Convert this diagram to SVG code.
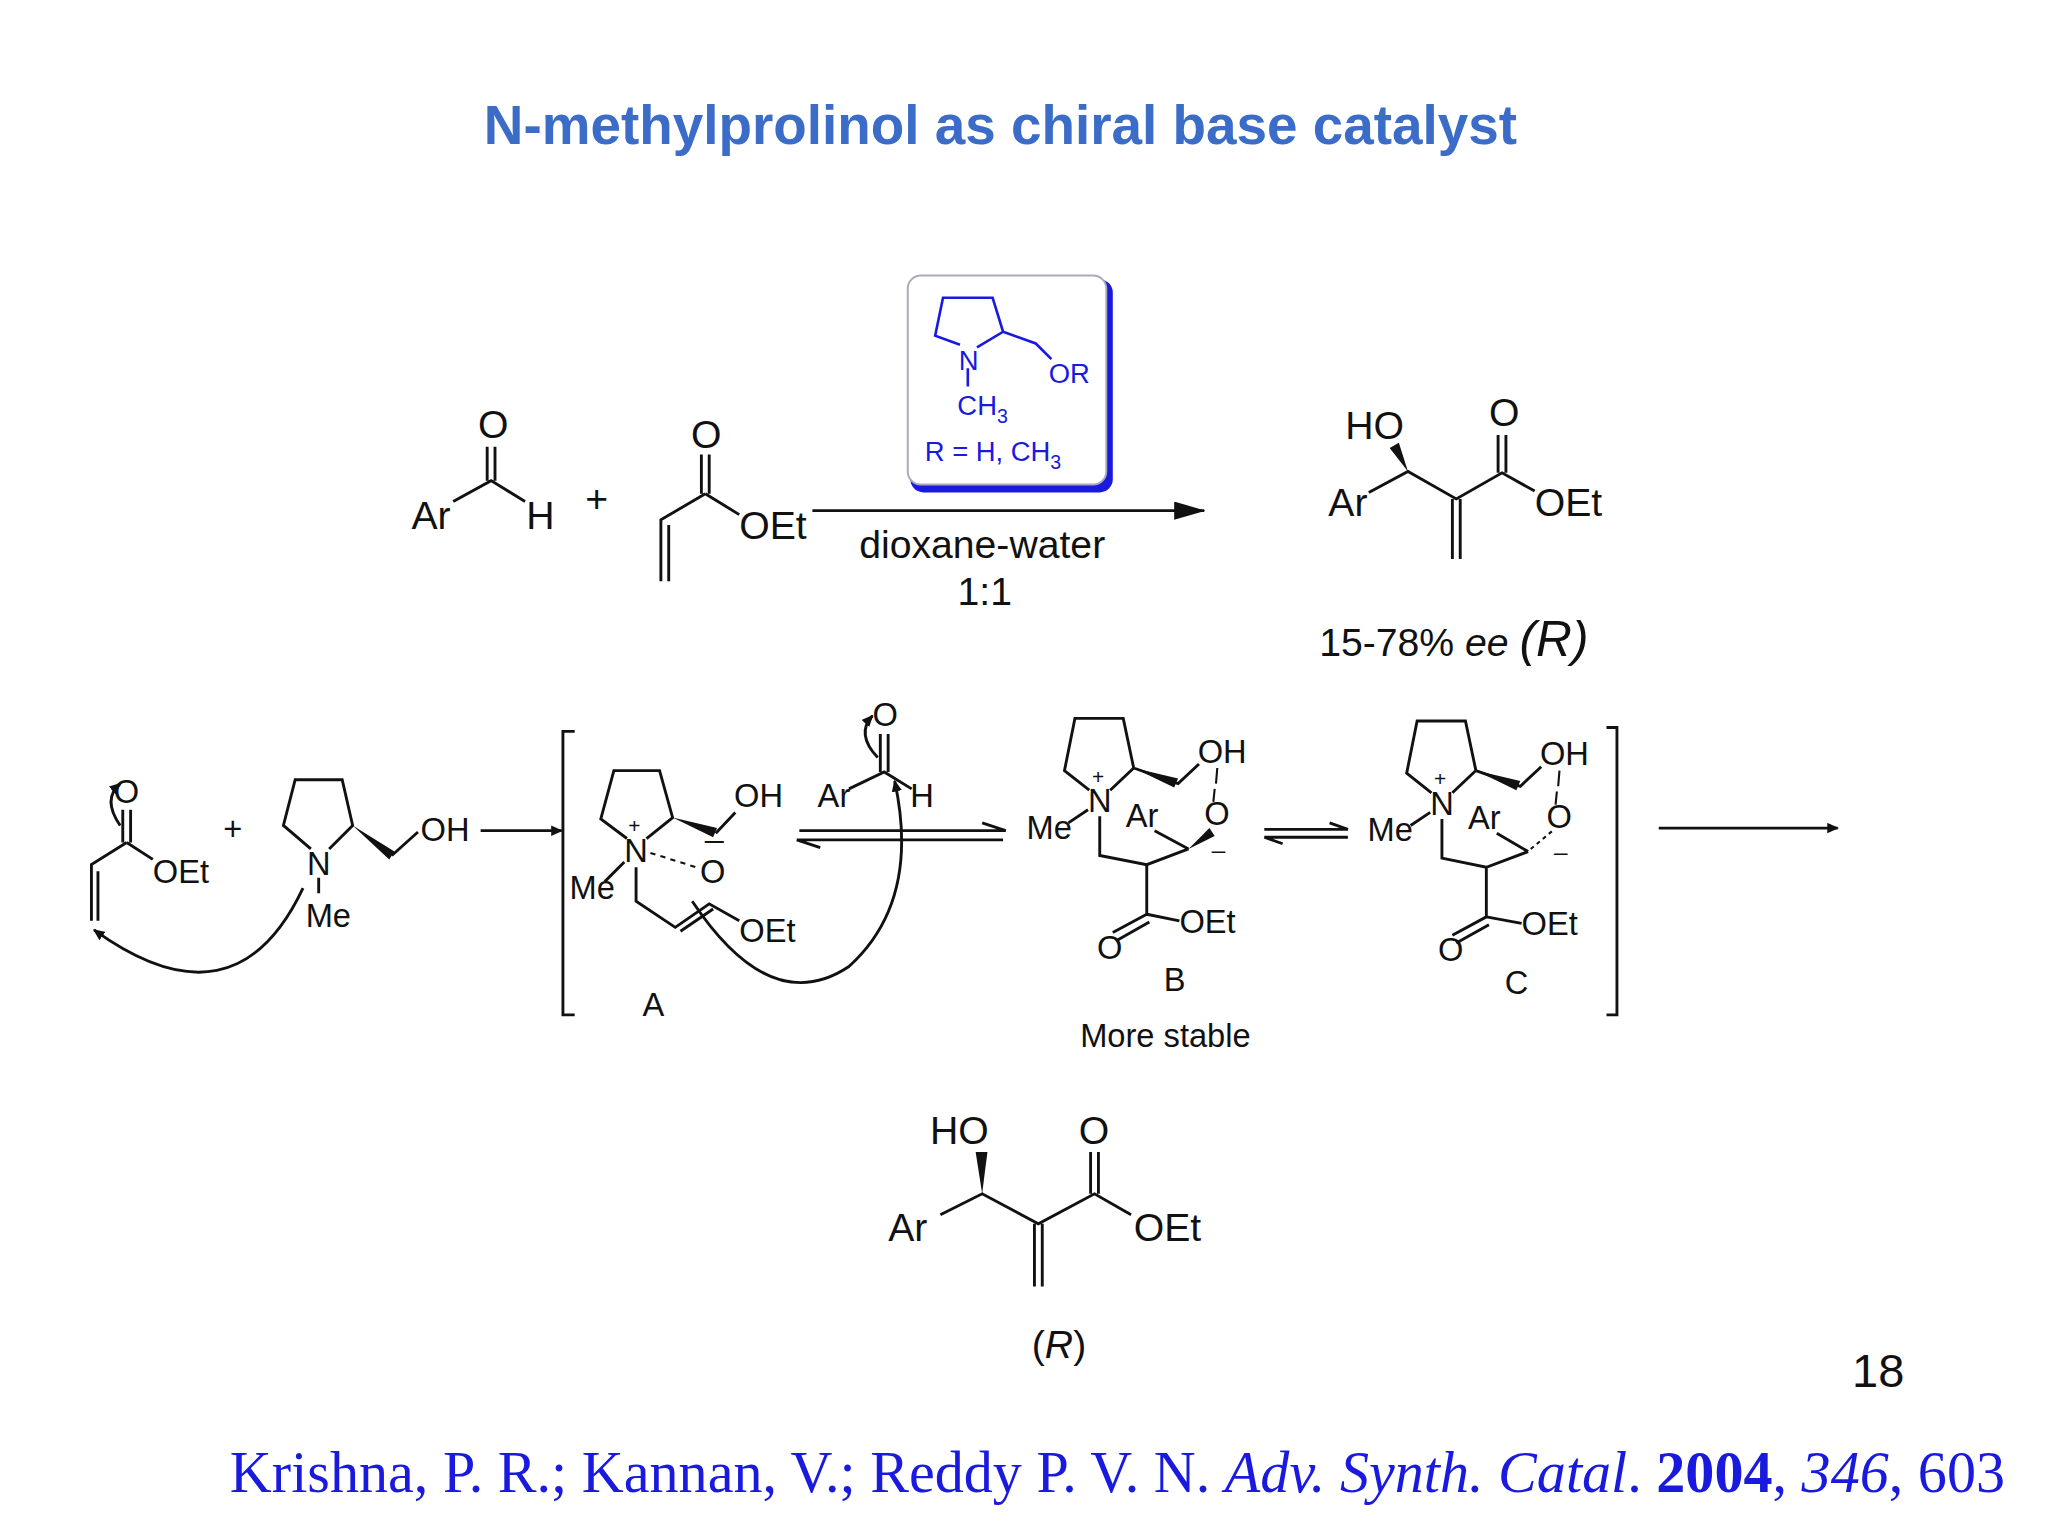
<svg xmlns="http://www.w3.org/2000/svg" width="2048" height="1536" viewBox="0 0 2048 1536">
<style>
text{font-family:"Liberation Sans",Arial,sans-serif;fill:#111}
.b{stroke:#111;stroke-width:2.2;fill:none}
.bl{stroke:#1a1adf;stroke-width:2;fill:none}
.t{font-size:30px}
.s{font-size:25px}
</style>
<defs>
<marker id="ah" markerWidth="24" markerHeight="14" refX="23" refY="7" orient="auto" markerUnits="userSpaceOnUse"><path d="M0,0 L24,7 L0,14 Z" fill="#111"/></marker>
<marker id="ahs" markerWidth="9" markerHeight="8" refX="8" refY="4" orient="auto" markerUnits="userSpaceOnUse"><path d="M0,0 L9,4 L0,8 Z" fill="#111"/></marker>
</defs>
<rect width="2048" height="1536" fill="#fff"/>
<g transform="scale(1.3061)">
<text x="766" y="110" text-anchor="middle" style="font-size:42px;font-weight:bold;fill:#3a6cc8">N-methylprolinol as chiral base catalyst</text>

<g id="aldehyde">
<text class="t" x="315" y="405">Ar</text><text class="t" x="366" y="335">O</text><text class="t" x="403" y="405">H</text>
<path class="b" d="M347,384 L376,368 L402,384 M373,368 V342 M379,368 V342"/>
</g>
<text class="t" x="448" y="392">+</text>
<g id="acrylate">
<text class="t" x="529" y="343">O</text><text class="t" x="566" y="413">OEt</text>
<path class="b" d="M537,378 V348 M543,378 V348 M540,378 L566,394 M540,378 L506,398 V445 M512,402 V445"/>
</g>
<g id="catalyst">
<rect x="697" y="214" width="155" height="163" rx="10" fill="#1a1adf"/>
<rect x="695" y="211" width="152" height="160" rx="10" fill="#fff" stroke="#aab" stroke-width="1.5"/>
<path class="bl" d="M735,264 L716,257 L722,228 L760,228 L768,254 L748,266 M768,254 L793,263 L805,275 M741,282 V296"/>
<text x="734" y="283" style="font-size:21px;fill:#1a1adf">N</text>
<text x="803" y="293" style="font-size:21px;fill:#1a1adf">OR</text>
<text x="733" y="318" style="font-size:21px;fill:#1a1adf">CH<tspan dy="6" style="font-size:15px">3</tspan></text>
<text x="708" y="353" style="font-size:21px;fill:#1a1adf">R = H, CH<tspan dy="6" style="font-size:15px">3</tspan></text>
</g>
<g id="connectors">
<path class="b" d="M622,391 H922" marker-end="url(#ah)"/>
<path class="b" d="M368,636 H430" marker-end="url(#ahs)"/>
<path class="b" d="M1270,634 H1407" marker-end="url(#ahs)"/>
<path class="b" d="M612,636 H770 L752,630 M610,643 H768 M610,643 L628,649" stroke-width="1.8"/>
<path class="b" d="M968,635 H1032 L1018,630 M968,641 H1032 M968,641 L982,646" stroke-width="1.8"/>
<path class="b" d="M232,680 Q180,790 72,712" marker-end="url(#ahs)" stroke-width="1.6"/>
<path class="b" d="M530,690 Q590,780 650,740 Q705,690 685,598" marker-end="url(#ahs)" stroke-width="1.6"/>
<path class="b" d="M92,632 Q78,612 92,600" marker-end="url(#ahs)" stroke-width="1.5"/>
<path class="b" d="M672,580 Q655,562 668,548" marker-end="url(#ahs)" stroke-width="1.5"/>
</g>
<text x="752" y="427" text-anchor="middle" class="t">dioxane-water</text>
<text x="754" y="463" text-anchor="middle" class="t">1:1</text>
<g id="product1">
<text class="t" x="1030" y="336">HO</text><text class="t" x="1140" y="326">O</text>
<text class="t" x="1017" y="395">Ar</text><text class="t" x="1175" y="395">OEt</text>
<path class="b" d="M1048,377 L1078,361 L1115,382 L1150,362 L1175,376 M1147,362 V333 M1153,362 V333 M1112,382 V428 M1118,382 V428"/>
<path d="M1078,361 L1064,343 L1071,339 Z" fill="#111"/>
<text x="1010" y="502" class="t">15-78% <tspan font-style="italic">ee</tspan> <tspan font-style="italic" style="font-size:38px">(R)</tspan></text>
</g>

<g id="acrylate2">
<text class="s" x="87" y="615">O</text><text class="s" x="117" y="676">OEt</text>
<path class="b" d="M94,645 V620 M100,645 V620 M97,645 L117,658 M97,645 L70,662 V705 M75,667 V705" stroke-width="1.6"/>
</g>
<text class="s" x="171" y="643">+</text>
<g id="prolinol">
<text class="s" x="235" y="670">N</text><text class="s" x="322" y="644">OH</text><text class="s" x="234" y="710">Me</text>
<path class="b" d="M238,650 L217,632 L226,597 L262,597 L270,632 L252,650 M300,655 L320,637 M244,672 V684" stroke-width="1.6"/>
<path d="M270,632 L302,652 L298,658 Z" fill="#111"/>
</g>
<g id="A">
<path class="b" d="M440,560 H431 V777 H440 M1230,557 H1238 V777 H1230" stroke-width="1.6"/>
<text class="s" x="478" y="660">N</text><text x="481" y="638" style="font-size:16px">+</text>
<text class="s" x="562" y="618">OH</text><text class="s" x="436" y="688">Me</text>
<text class="s" x="536" y="676">O</text><text class="s" x="540" y="640">_</text><text class="s" x="566" y="721">OEt</text>
<text class="s" x="492" y="778">A</text>
<path class="b" d="M480,642 L460,627 L470,590 L505,590 L515,626 L495,642 M548,638 L563,622 M478,660 L463,675 M487,664 V690 L517,710 L543,692 L566,705 M521,713 L546,696" stroke-width="1.6"/>
<path d="M498,653 L533,664" stroke="#111" stroke-width="1.6" stroke-dasharray="4 4"/>
<path d="M515,626 L549,634 L546,641 Z" fill="#111"/>
</g>
<g id="ArCHO">
<text class="s" x="626" y="618">Ar</text><text class="s" x="668" y="556">O</text><text class="s" x="697" y="618">H</text>
<path class="b" d="M650,604 L677,591 L698,604 M674,591 V562 M680,591 V562" stroke-width="1.6"/>
</g>
<g id="B">
<text class="s" x="833" y="622">N</text><text style="font-size:16px" x="836" y="600">+</text>
<text class="s" x="786" y="642">Me</text><text class="s" x="862" y="633">Ar</text>
<text class="s" x="917" y="584">OH</text><text class="s" x="922" y="632">O</text><text x="928" y="649" style="font-size:18px">_</text>
<text class="s" x="840" y="734">O</text><text class="s" x="903" y="714">OEt</text>
<text class="s" x="891" y="759">B</text><text class="s" x="827" y="802">More stable</text>
<path class="b" d="M834,605 L815,590 L823,550 L860,550 L868,588 L850,605 M868,588 L902,600 L918,585 M833,620 L818,630 M842,625 V655 L878,662 L910,650 M884,636 L910,650 M878,662 V700 L903,705 M878,700 L852,714 M880,706 L855,720" stroke-width="1.6"/>
<path d="M868,588 L902,596 L899,603 Z" fill="#111"/>
<path d="M910,650 L926,634 L930,640 Z" fill="#111"/>
<path d="M932,588 L931,600 M930,604 L929,614" stroke="#111" stroke-width="1.6"/>
</g>
<g id="C">
<text class="s" x="1095" y="624">N</text><text style="font-size:16px" x="1098" y="602">+</text>
<text class="s" x="1047" y="644">Me</text><text class="s" x="1124" y="635">Ar</text>
<text class="s" x="1179" y="586">OH</text><text class="s" x="1184" y="634">O</text><text x="1190" y="651" style="font-size:18px">_</text>
<text class="s" x="1101" y="736">O</text><text class="s" x="1165" y="716">OEt</text>
<text class="s" x="1152" y="761">C</text>
<path class="b" d="M1096,607 L1077,592 L1085,552 L1122,552 L1130,590 L1112,607 M1130,590 L1164,602 L1180,587 M1095,622 L1080,632 M1104,627 V657 L1138,664 L1170,652 M1146,638 L1170,652 M1138,664 V702 L1165,707 M1138,702 L1112,716 M1140,708 L1115,722" stroke-width="1.6"/>
<path d="M1130,590 L1164,598 L1161,605 Z" fill="#111"/>
<path d="M1172,650 L1190,635" stroke="#111" stroke-width="1.6" stroke-dasharray="3 3"/>
<path d="M1194,590 L1193,602 M1192,606 L1191,616" stroke="#111" stroke-width="1.6"/>
</g>
<g id="product2">
<text class="t" x="712" y="876">HO</text><text class="t" x="826" y="876">O</text>
<text class="t" x="680" y="950">Ar</text><text class="t" x="868" y="950">OEt</text>
<path class="b" d="M720,930 L752,914 L795,937 L838,914 L866,930 M835,914 V882 M841,914 V882 M792,937 V985 M798,937 V985"/>
<path d="M752,914 L747,882 L756,882 Z" fill="#111"/>
<text x="790" y="1040" class="t">(<tspan font-style="italic">R</tspan>)</text>
</g>
<text x="1418" y="1062" style="font-size:36px">18</text>
<text x="176" y="1142" style="font-family:'Liberation Serif',serif;font-size:44.5px;fill:#1a1adf">Krishna, P. R.; Kannan, V.; Reddy P. V. N. <tspan font-style="italic" style="fill:#1a1adf">Adv. Synth. Catal</tspan>. <tspan font-weight="bold" style="fill:#1a1adf">2004</tspan>, <tspan font-style="italic" style="fill:#1a1adf">346</tspan>, 603</text>
</g>
</svg>
